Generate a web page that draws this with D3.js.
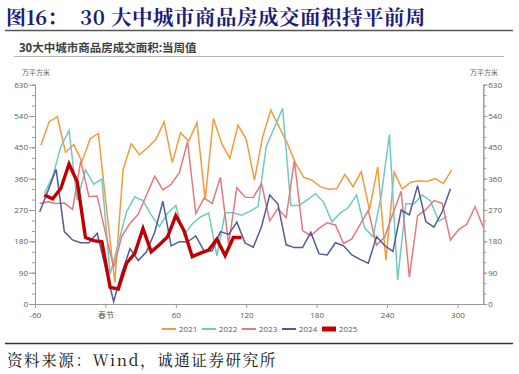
<!DOCTYPE html>
<html>
<head>
<meta charset="utf-8">
<script src="https://d3js.org/d3.v7.min.js"></script>
<style>
  body { margin: 0; background: #fff; }
  svg text { font-family: "Open Sans", "Noto Sans CJK SC", sans-serif; }
</style>
</head>
<body>
<script>
// 30大中城市商品房成交面积：当周值（万平方米），横轴为距春节天数
var years = ['2021', '2022', '2023', '2024', '2025'];
var startDays = [-55, -52, -56, -56, -52];   // 每个序列第一周距春节的天数

var xTicks = [-60, 0, 60, 120, 180, 240, 300];
var xTickLabels = ['-60', '春节', '60', '120', '180', '240', '300'];
var yTicks = [0, 90, 180, 270, 360, 450, 540, 630];
var yMinorTicks = d3.range(0, 631, 30);

var v2021 = [456, 523, 538, 436, 458, 409, 475, 490, 272, 62, 385, 460, 429, 449, 473, 523, 406, 492,
  468, 521, 300, 533, 462, 418, 514, 473, 356, 481, 557, 509, 462, 404, 364, 356, 337, 330, 331, 372,
  337, 380, 270, 394, 126, 379, 330, 350, 354, 352, 360, 346, 385];
var v2022 = [318, 366, 452, 498, 298, 385, 344, 359, 85, 175, 265, 308, 297, 256, 222, 261, 283, 198,
  230, 250, 262, 138, 262, 262, 255, 266, 280, 452, 507, 562, 283, 283, 299, 317, 292, 236, 261, 277,
  313, 218, 193, 310, 487, 69, 288, 288, 313, 296, 238, 251];
var v2023 = [289, 294, 289, 290, 272, 411, 308, 310, 205, 105, 195, 232, 258, 313, 367, 328, 344, 377,
  466, 260, 304, 289, 364, 172, 334, 307, 306, 346, 239, 274, 248, 412, 211, 196, 217, 233, 227, 174,
  187, 228, 269, 169, 193, 260, 324, 77, 254, 271, 297, 289, 184, 214, 229, 280, 220];
var v2024 = [265, 325, 387, 208, 184, 176, 176, 203, 105, 7, 90, 159, 125, 150, 206, 295, 167, 179,
  178, 196, 153, 153, 208, 200, 235, 175, 163, 222, 313, 287, 170, 162, 162, 206, 144, 141, 176, 167,
  141, 128, 117, 193, 168, 151, 270, 256, 340, 237, 221, 265, 331];
var v2025 = [313, 302, 332, 402, 351, 191, 182, 179, 48, 43, 117, 145, 217, 150, 170, 193, 254, 211,
  136, 146, 155, 186, 139, 191, 191];

var seriesValues = [v2021, v2022, v2023, v2024, v2025];
var colors = ['#f59a3d', '#6fcac3', '#e8787c', '#515b98', '#c00000'];

var width = 519, height = 374;
var plotLeft = 35, plotRight = 483.3, plotTop = 84.7, plotBottom = 304;

var svg = d3.select('body').append('svg')
    .attr('width', width)
    .attr('height', height);

svg.append('rect').attr('width', width).attr('height', height).attr('fill', '#fff');

// 标题
svg.append('text')
    .attr('x', 6).attr('y', 25)
    .attr('fill', '#1c1c78')
    .style('font-family', '"Noto Serif CJK SC", "DejaVu Serif", "Noto Sans CJK SC", serif')
    .style('font-size', '20px').style('font-weight', 'bold')
    .text('图16：');
svg.append('text')
    .attr('x', 80).attr('y', 25)
    .attr('fill', '#1c1c78')
    .style('font-family', '"Noto Serif CJK SC", "DejaVu Serif", "Noto Sans CJK SC", serif')
    .style('font-size', '20.5px').style('font-weight', 'bold')
    .style('letter-spacing', '0.5px')
    .text('30 大中城市商品房成交面积持平前周');
svg.append('line')
    .attr('x1', 5).attr('x2', 513).attr('y1', 30.5).attr('y2', 30.5)
    .attr('stroke', '#555').attr('stroke-width', 1.5);

svg.append('text')
    .attr('x', 19).attr('y', 52)
    .attr('fill', '#3f3f3f')
    .style('font-size', '11.5px').style('font-weight', 'bold')
    .text('30大中城市商品房成交面积:当周值');
svg.append('line')
    .attr('x1', 14).attr('x2', 504).attr('y1', 56.5).attr('y2', 56.5)
    .attr('stroke', '#b5b5b5').attr('stroke-width', 1);

svg.append('text').attr('x', 22).attr('y', 74.5)
    .attr('fill', '#666').style('font-size', '7px').text('万平方米');
svg.append('text').attr('x', 470).attr('y', 74.5)
    .attr('fill', '#666').style('font-size', '7px').text('万平方米');

var x = d3.scaleLinear().domain([-60, 322]).range([plotLeft, plotRight]);
var y = d3.scaleLinear().domain([0, 630]).range([plotBottom, plotTop]);

function styleAxis(g) {
    g.select('.domain').attr('stroke', '#999');
    g.selectAll('.tick line').attr('stroke', '#999');
    g.selectAll('.tick text').attr('fill', '#595959').style('font-size', '8px');
}

// 左轴
svg.append('g')
    .attr('transform', 'translate(' + plotLeft + ',0)')
    .call(d3.axisLeft(y).tickValues(yMinorTicks).tickSize(3).tickFormat(''))
    .call(styleAxis);
svg.append('g')
    .attr('transform', 'translate(' + plotLeft + ',0)')
    .call(d3.axisLeft(y).tickValues(yTicks).tickSize(6).tickPadding(1).tickSizeOuter(0))
    .call(styleAxis);

// 右轴
svg.append('g')
    .attr('transform', 'translate(' + plotRight + ',0)')
    .call(d3.axisRight(y).tickValues(yMinorTicks).tickSize(3).tickFormat(''))
    .call(styleAxis);
svg.append('g')
    .attr('transform', 'translate(' + plotRight + ',0)')
    .call(d3.axisRight(y).tickValues(yTicks).tickSize(4).tickPadding(1).tickSizeOuter(0))
    .call(styleAxis);

// 横轴
svg.append('g')
    .attr('transform', 'translate(0,' + plotBottom + ')')
    .call(d3.axisBottom(x).tickValues(xTicks).tickSize(4).tickPadding(4).tickSizeOuter(0)
        .tickFormat(function(d, i) { return xTickLabels[i]; }))
    .call(styleAxis);

// 折线
var line = d3.line()
    .x(function(d) { return x(d.day); })
    .y(function(d) { return y(d.value); });

var series = years.map(function(yr, i) {
    return {
        year: yr,
        color: colors[i],
        points: seriesValues[i].map(function(v, k) {
            return { day: startDays[i] + 7 * k, value: v };
        })
    };
});

svg.append('g')
    .selectAll('path')
    .data(series)
    .enter().append('path')
    .attr('d', function(d) { return line(d.points); })
    .attr('fill', 'none')
    .attr('stroke', function(d) { return d.color; })
    .attr('stroke-width', function(d) { return d.year === '2025' ? 3.4 : 1.5; })
    .attr('stroke-linejoin', 'miter');

// 图例
var legendX = [162, 202, 242, 282, 322];
var legend = svg.append('g')
    .selectAll('g')
    .data(series)
    .enter().append('g')
    .attr('transform', function(d, i) { return 'translate(' + legendX[i] + ',329)'; });

legend.each(function(d) {
    var g = d3.select(this);
    if (d.year === '2025') {
        g.append('rect').attr('x', 0).attr('y', -2.5).attr('width', 14).attr('height', 5)
            .attr('fill', d.color);
    } else {
        g.append('line').attr('x1', 0).attr('x2', 14).attr('y1', 0).attr('y2', 0)
            .attr('stroke', d.color).attr('stroke-width', 2);
    }
    g.append('text').attr('x', 17).attr('y', 3)
        .attr('fill', '#595959').style('font-size', '8px')
        .text(d.year);
});

// 资料来源
svg.append('line')
    .attr('x1', 5).attr('x2', 513).attr('y1', 343.5).attr('y2', 343.5)
    .attr('stroke', '#333').attr('stroke-width', 1.5);
svg.append('text')
    .attr('x', 7).attr('y', 366)
    .attr('fill', '#111')
    .style('font-family', '"Noto Serif CJK SC", "Liberation Serif", "Noto Sans CJK SC", serif')
    .style('font-size', '15.5px')
    .style('letter-spacing', '1.6px')
    .text('资料来源：Wind，诚通证券研究所');
</script>
</body>
</html>
